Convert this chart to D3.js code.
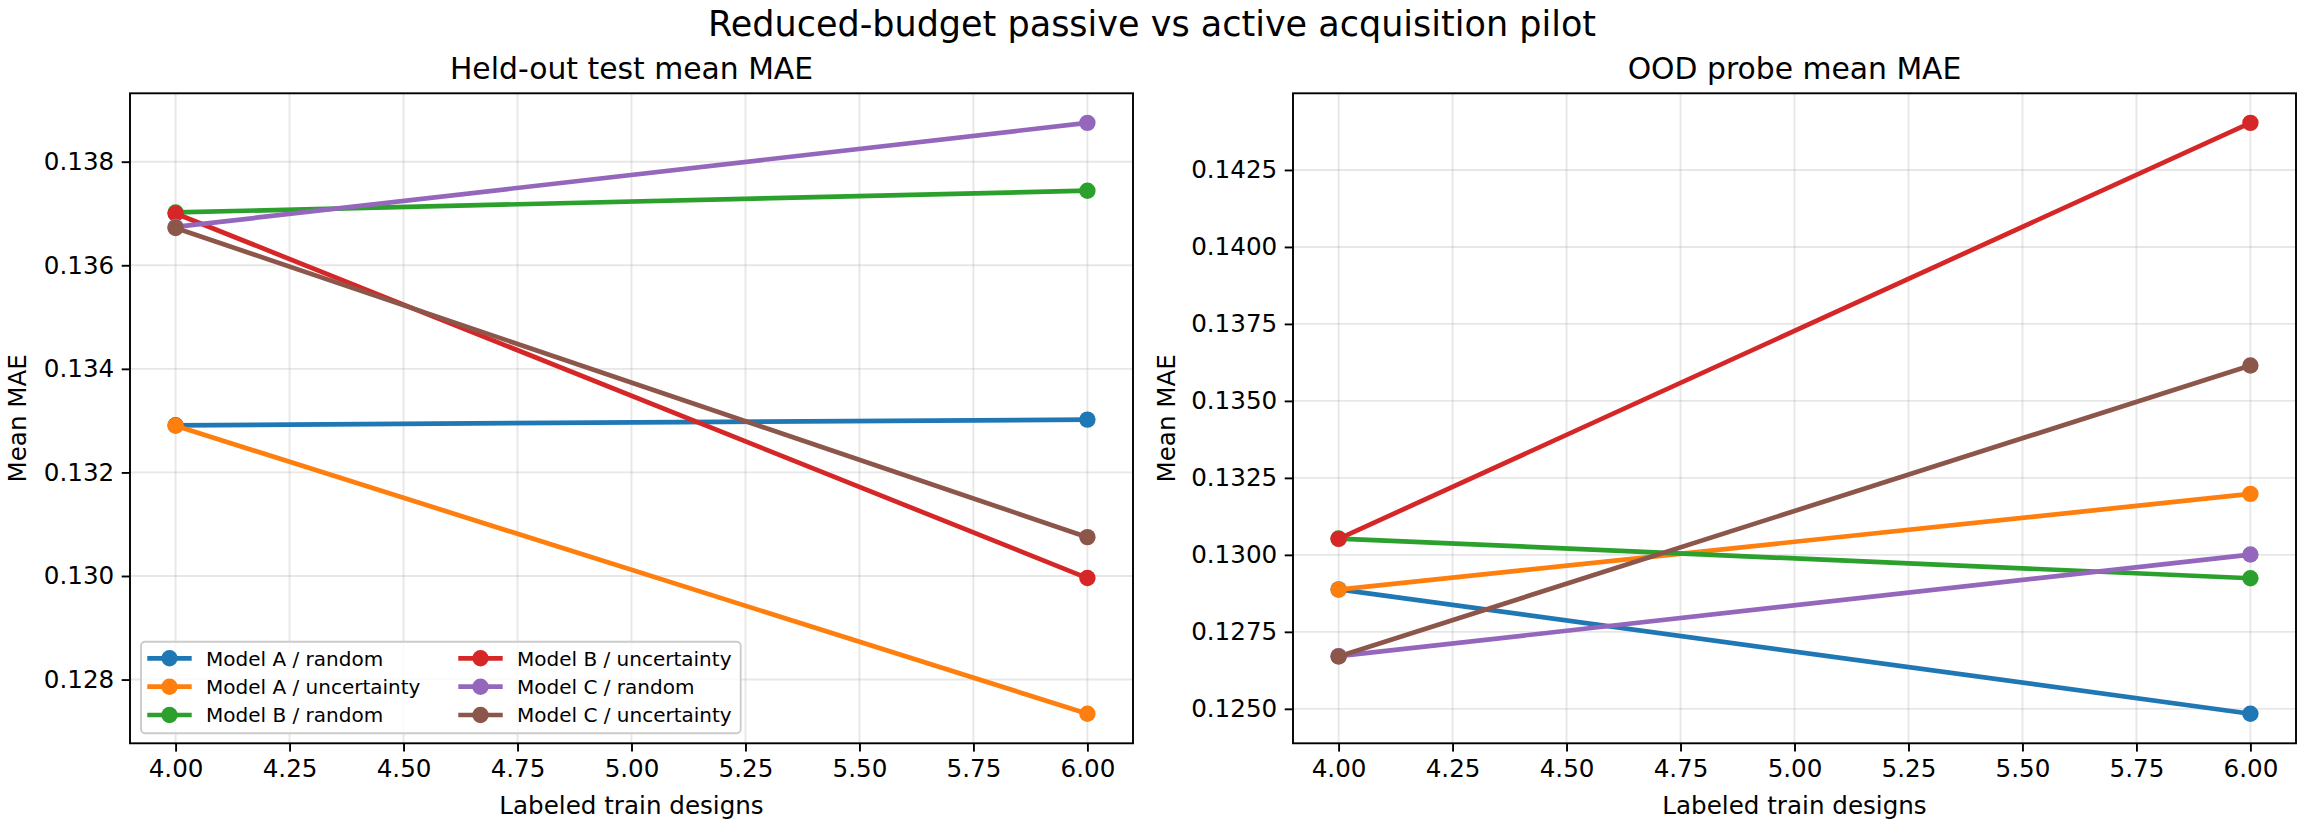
<!DOCTYPE html>
<html>
<head>
<meta charset="utf-8">
<script src="https://cdn.jsdelivr.net/npm/d3@7"></script>
<style>
	body { margin: 0; background: #fff; }
	svg text { font-family: "DejaVu Sans", sans-serif; fill: #000; }
</style>
</head>
<body>
<div class="chart"></div>
<script>

// values
var budgets = [4, 6];
var seriesLabels = ['Model A / random', 'Model A / uncertainty', 'Model B / random',
	'Model B / uncertainty', 'Model C / random', 'Model C / uncertainty'];
var heldOutMae = [
	[0.13291, 0.13302],
	[0.13290, 0.12734],
	[0.13702, 0.13744],
	[0.13700, 0.12996],
	[0.13674, 0.13875],
	[0.13672, 0.13075]
];
var oodMae = [
	[0.12888, 0.12484],
	[0.12887, 0.13198],
	[0.13053, 0.12924],
	[0.13052, 0.14403],
	[0.12671, 0.13001],
	[0.12670, 0.13615]
];
var xTicks = [4.00, 4.25, 4.50, 4.75, 5.00, 5.25, 5.50, 5.75, 6.00];
var heldOutTicks = [0.128, 0.130, 0.132, 0.134, 0.136, 0.138];
var oodTicks = [0.1250, 0.1275, 0.1300, 0.1325, 0.1350, 0.1375, 0.1400, 0.1425];

var palette = ['#1f77b4', '#ff7f0e', '#2ca02c', '#d62728', '#9467bd', '#8c564b'];

$chart = (function() {

	var W = 2304, H = 827;
	var top = 93.3, bottom = 743.3;
	var tickFont = 24.6, lineW = 4.7, markR = 8.2;

	var init = function() {
		var svg = d3.select('.chart').append('svg')
			.attr('width', W).attr('height', H);

		svg.append('text')
			.attr('x', W / 2).attr('y', 36)
			.attr('text-anchor', 'middle')
			.style('font-size', '35px')
			.text('Reduced-budget passive vs active acquisition pilot');

		drawPanel(svg, 130, 1133, heldOutMae, heldOutTicks, d3.format('.3f'), 'Held-out test mean MAE', 17.5, true);
		drawPanel(svg, 1293, 2296, oodMae, oodTicks, d3.format('.4f'), 'OOD probe mean MAE', 1166, false);
	};

	var padded = function(lo, hi) {
		var r = hi - lo;
		return [lo - r * 0.05, hi + r * 0.05];
	};

	var drawPanel = function(svg, left, right, values, yTicks, fmt, title, ylabX, withLegend) {

		var all = d3.merge(values);
		var x = d3.scaleLinear().domain(padded(d3.min(budgets), d3.max(budgets))).range([left, right]);
		var y = d3.scaleLinear().domain(padded(d3.min(all), d3.max(all))).range([bottom, top]);

		var g = svg.append('g');

		// grid
		g.selectAll('line.gx').data(xTicks).enter().append('line')
			.attr('x1', function(d) { return x(d); }).attr('x2', function(d) { return x(d); })
			.attr('y1', top).attr('y2', bottom)
			.attr('stroke', '#b0b0b0').attr('stroke-opacity', 0.3).attr('stroke-width', 1.9);
		g.selectAll('line.gy').data(yTicks).enter().append('line')
			.attr('y1', function(d) { return y(d); }).attr('y2', function(d) { return y(d); })
			.attr('x1', left).attr('x2', right)
			.attr('stroke', '#b0b0b0').attr('stroke-opacity', 0.3).attr('stroke-width', 1.9);

		// series
		var line = d3.line()
			.x(function(d, i) { return x(budgets[i]); })
			.y(function(d) { return y(d); });

		values.forEach(function(vals, k) {
			g.append('path')
				.attr('d', line(vals))
				.attr('fill', 'none')
				.attr('stroke', palette[k])
				.attr('stroke-width', lineW)
				.attr('stroke-linecap', 'butt');
			g.selectAll(null).data(vals).enter().append('circle')
				.attr('cx', function(d, i) { return x(budgets[i]); })
				.attr('cy', function(d) { return y(d); })
				.attr('r', markR)
				.attr('fill', palette[k]);
		});

		// axes
		var xAxis = d3.axisBottom(x).tickValues(xTicks).tickFormat(d3.format('.2f'))
			.tickSizeInner(8.3).tickSizeOuter(0).tickPadding(7.5);
		var yAxis = d3.axisLeft(y).tickValues(yTicks).tickFormat(fmt)
			.tickSizeInner(8.3).tickSizeOuter(0).tickPadding(7.5);

		var gx = svg.append('g').attr('transform', 'translate(0,' + bottom + ')').call(xAxis);
		var gy = svg.append('g').attr('transform', 'translate(' + left + ',0)').call(yAxis);
		[gx, gy].forEach(function(a) {
			a.select('.domain').remove();
			a.selectAll('line').attr('stroke', '#000').attr('stroke-width', 1.9);
			a.selectAll('text').style('font-size', tickFont + 'px')
				.style('font-family', '"DejaVu Sans", sans-serif').attr('fill', '#000');
		});

		// frame
		svg.append('rect')
			.attr('x', left).attr('y', top)
			.attr('width', right - left).attr('height', bottom - top)
			.attr('fill', 'none').attr('stroke', '#000').attr('stroke-width', 1.9);

		svg.append('text')
			.attr('x', (left + right) / 2).attr('y', 79)
			.attr('text-anchor', 'middle')
			.style('font-size', '29.8px')
			.text(title);

		svg.append('text')
			.attr('x', (left + right) / 2).attr('y', 814)
			.attr('text-anchor', 'middle')
			.style('font-size', tickFont + 'px')
			.text('Labeled train designs');

		svg.append('text')
			.attr('transform', 'translate(' + (ylabX + 8.5) + ',' + ((top + bottom) / 2) + ') rotate(-90)')
			.attr('text-anchor', 'middle')
			.style('font-size', tickFont + 'px')
			.text('Mean MAE');

		if (withLegend) drawLegend(svg);
	};

	var drawLegend = function(svg) {
		var lg = svg.append('g');
		var fs = 20;

		lg.append('rect')
			.attr('x', 141).attr('y', 641.7)
			.attr('width', 599.7).attr('height', 91.6)
			.attr('rx', 4).attr('ry', 4)
			.attr('fill', '#fff').attr('fill-opacity', 0.8)
			.attr('stroke', '#cccccc').attr('stroke-width', 1.9);

		var colX = [147.3, 458.3];
		var rowY = [658.3, 686.7, 715];

		seriesLabels.forEach(function(name, k) {
			var cx = colX[Math.floor(k / 3)];
			var cy = rowY[k % 3];
			lg.append('line')
				.attr('x1', cx).attr('x2', cx + 44.4)
				.attr('y1', cy).attr('y2', cy)
				.attr('stroke', palette[k]).attr('stroke-width', lineW);
			lg.append('circle')
				.attr('cx', cx + 22.2).attr('cy', cy).attr('r', markR)
				.attr('fill', palette[k]);
			lg.append('text')
				.attr('x', cx + 58.7).attr('y', cy + 7.3)
				.style('font-size', fs + 'px')
				.text(name);
		});
	};

	return {
		'init': init
	};

})();

$chart.init();
</script>
</body>
</html>
